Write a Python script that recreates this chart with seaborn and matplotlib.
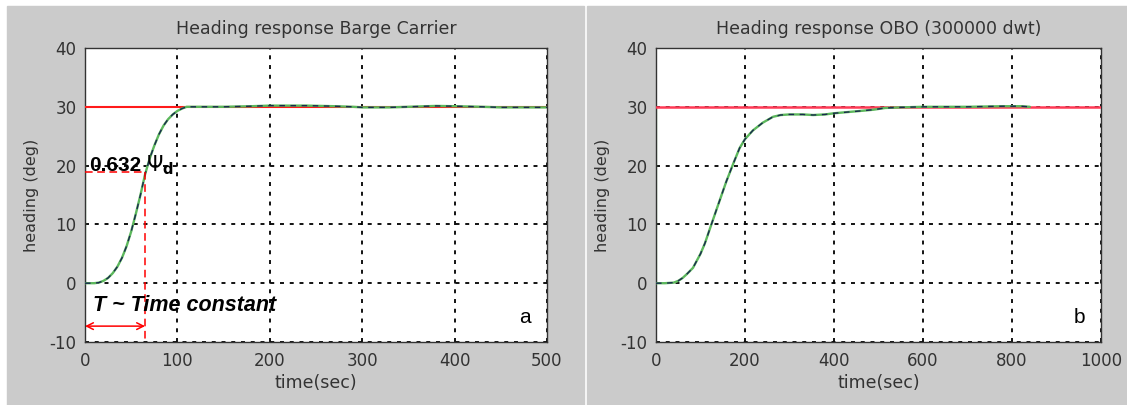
import seaborn as sns
import matplotlib.pyplot as plt
from matplotlib.patches import Rectangle

# heading response, Barge Carrier (time in sec, heading in deg)
barge_t = [0, 10, 15, 20, 25, 30, 35, 40, 45, 50, 55, 60, 65, 70, 75, 80, 85, 90, 95,
           100, 105, 110, 150, 180, 200, 240, 270, 290, 300, 330, 350, 380, 400, 430,
           450, 490, 500]
barge_psi = [0, 0, 0.1, 0.4, 0.9, 1.7, 2.8, 4.3, 6.3, 8.8, 11.8, 15.0, 18.5, 21.2,
             23.4, 25.3, 26.8, 27.9, 28.7, 29.3, 29.7, 30.0, 30.0, 30.1, 30.2, 30.2,
             30.1, 30.0, 29.9, 29.9, 30.0, 30.15, 30.1, 30.0, 29.9, 29.9, 29.9]

# heading response, OBO (300000 dwt)
obo_t = [0, 20, 40, 50, 60, 70, 83, 100, 110, 124, 140, 158, 175, 188, 200, 218, 240,
         263, 280, 300, 330, 353, 380, 400, 430, 460, 488, 515, 550, 600, 700, 780,
         820, 840]
obo_psi = [0, 0, 0.1, 0.4, 0.9, 1.6, 2.6, 5.0, 6.8, 9.9, 13.4, 17.3, 20.6, 23.0,
           24.5, 26.0, 27.3, 28.3, 28.6, 28.7, 28.7, 28.6, 28.7, 28.9, 29.1, 29.3,
           29.5, 29.8, 29.9, 30.0, 30.0, 30.1, 30.1, 30.0]

psi_d = 30
step_t = [0, 0]
step_psi = [0, 30]
time_const = 65
yticks = [-10, 0, 10, 20, 30, 40]

sns.set_style("white")
plt.rcParams["font.family"] = ["DejaVu Sans"]
plt.rcParams["axes.unicode_minus"] = False

fig = plt.figure(figsize=(11.27, 4.05), dpi=100)
W, H = 1127, 405
gray = "#cbcbcb"
fig.patches.append(Rectangle((7 / W, 0), (584 - 7) / W, (405 - 6) / H,
                             transform=fig.transFigure, color=gray, zorder=-5))
fig.patches.append(Rectangle((587 / W, 0), (1127 - 587) / W, (405 - 6) / H,
                             transform=fig.transFigure, color=gray, zorder=-5))

ax1 = fig.add_axes([85 / W, 1 - 342 / H, (547 - 85) / W, (342 - 48) / H])
ax2 = fig.add_axes([656 / W, 1 - 342 / H, (1101 - 656) / W, (342 - 48) / H])

panels = [
    (ax1, barge_t, barge_psi, "Heading response Barge Carrier", 500,
     [0, 100, 200, 300, 400, 500], "a", "#ff1a1a", 1.5),
    (ax2, obo_t, obo_psi, "Heading response OBO (300000 dwt)", 1000,
     [0, 200, 400, 600, 800, 1000], "b", "#ff3a55", 1.8),
]

txt = "#333333"
for ax, t, psi, title, tmax, xticks, tag, red, red_lw in panels:
    ax.set_facecolor("white")
    sns.lineplot(x=step_t, y=step_psi, ax=ax, color="#5cb85c", lw=1.6, estimator=None)
    ax.axhline(psi_d, color=red, lw=red_lw, zorder=3)
    sns.lineplot(x=t, y=psi, ax=ax, color="#5cb85c", lw=1.7, estimator=None, zorder=4)
    sns.lineplot(x=t, y=psi, ax=ax, color="#1a2850", lw=1.0, estimator=None,
                 linestyle=(0, (4, 4)), zorder=5)
    ax.set_xlim(0, tmax)
    ax.set_ylim(-10, 40)
    ax.set_xticks(xticks)
    ax.set_yticks(yticks)
    ax.grid(True, color="black", linestyle=(0, (2.2, 3.2)), lw=1.3)
    ax.tick_params(direction="in", length=4, colors="black", labelcolor=txt,
                   labelsize=12)
    ax.tick_params(axis="x", pad=7)
    ax.tick_params(axis="y", pad=6)
    for s in ax.spines.values():
        s.set_color("#333333")
        s.set_linewidth(1.0)
    ax.set_title(title, fontsize=12.5, color=txt, pad=10)
    ax.set_xlabel("time(sec)", fontsize=12.5, color=txt, labelpad=3)
    ax.set_ylabel("heading (deg)", fontsize=11.5, color=txt, labelpad=8)
    ax.text(0.965 * tmax, -5.8, tag, fontsize=15, ha="right", va="center",
            color="black", family="Liberation Sans")

# time constant annotation on panel a
ax1.plot([0, time_const], [0.632 * psi_d, 0.632 * psi_d], color="red", lw=1.1,
         linestyle=(0, (5, 3)), zorder=6)
ax1.plot([time_const, time_const], [0.632 * psi_d, -10], color="red", lw=1.1,
         linestyle=(0, (5, 3)), zorder=6)
ax1.annotate("", xy=(0, -7.3), xytext=(time_const, -7.3),
             arrowprops=dict(arrowstyle="<->", color="red", lw=1.1,
                             shrinkA=0, shrinkB=0, mutation_scale=12), zorder=6)
ax1.text(5, 20, "0.632", fontsize=15, fontweight="bold", family="Liberation Sans",
         ha="left", va="center", color="black", zorder=7)
ax1.text(66, 20, r"$\Psi_\mathbf{d}$", fontsize=15, family="DejaVu Serif",
         ha="left", va="center", color="black", zorder=7)
ax1.text(9, -3.8, "T ~ Time constant", fontsize=15.5, fontweight="bold",
         fontstyle="italic", family="Liberation Sans",
         ha="left", va="center", color="black", zorder=7)

fig.savefig("out.png", dpi=100)
